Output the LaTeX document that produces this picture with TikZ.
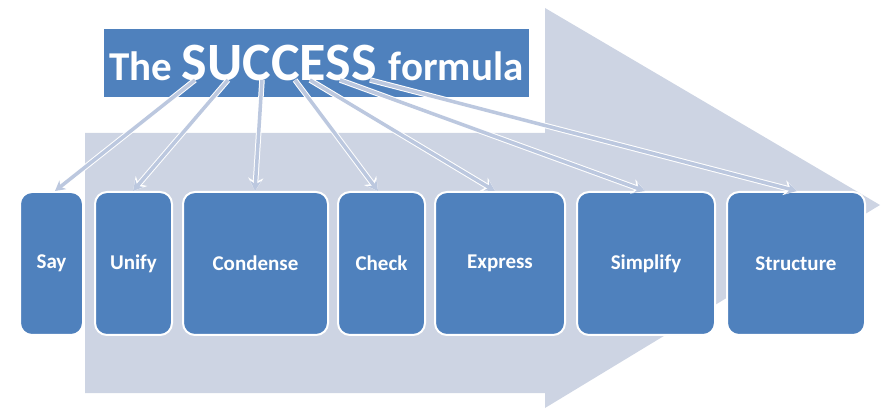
\documentclass[tikz,border=0pt]{standalone}
\usetikzlibrary{arrows.meta}
\usepackage{fontspec}
\setmainfont{Carlito}
\begin{document}
\begin{tikzpicture}[x=1pt,y=-1pt,
  box/.style={draw=white,line width=2pt,fill=boxblue,rounded corners=12pt,text=white,font=\bfseries\fontsize{21}{23}\selectfont,inner sep=0pt},
  conn/.style={draw=white,line width=5.5pt,-{Stealth[length=13pt,width=15pt]},postaction={draw=linecol,line width=3.5pt,-{Stealth[length=10pt,width=11pt]}}}]
\definecolor{boxblue}{HTML}{4F81BD}
\definecolor{bgarrow}{HTML}{CDD4E3}
\definecolor{linecol}{HTML}{BCC8DF}
\useasboundingbox (0,0) rectangle (883,411);
\fill[bgarrow] (85,133) -- (545,133) -- (545,8) -- (880,205) -- (545,408) -- (545,393) -- (85,393) -- cycle;
\node[draw=white,line width=2pt,fill=boxblue,minimum width=427pt,minimum height=70pt,text=white,font=\bfseries,inner sep=0pt] (title) at (316.5,63) {\fontsize{41}{43}\selectfont The \fontsize{54}{56}\selectfont SUCCESS \fontsize{41}{43}\selectfont formula};
\foreach \n/\t/\xa/\xb in {say/Say/20/83, uni/Unify/95/172, con/Condense/183/328, che/Check/338/425, exp/Express/435/565, sim/Simplify/577/715, str/Structure/727/865}
  \node[box,minimum width=\xb-\xa,minimum height=143] (\n) at ({(\xa+\xb)/2},263.5) {\t};
\foreach \s/\n/\ex in {195/say/55, 228/uni/133, 262/con/255, 295/che/378, 310/exp/495, 340/sim/645, 370/str/797}{
  \coordinate (s\n) at (\s,80);
  \coordinate (e\n) at (\ex,191);
  \draw[conn] (s\n) -- (e\n);}
\end{tikzpicture}
\end{document}
